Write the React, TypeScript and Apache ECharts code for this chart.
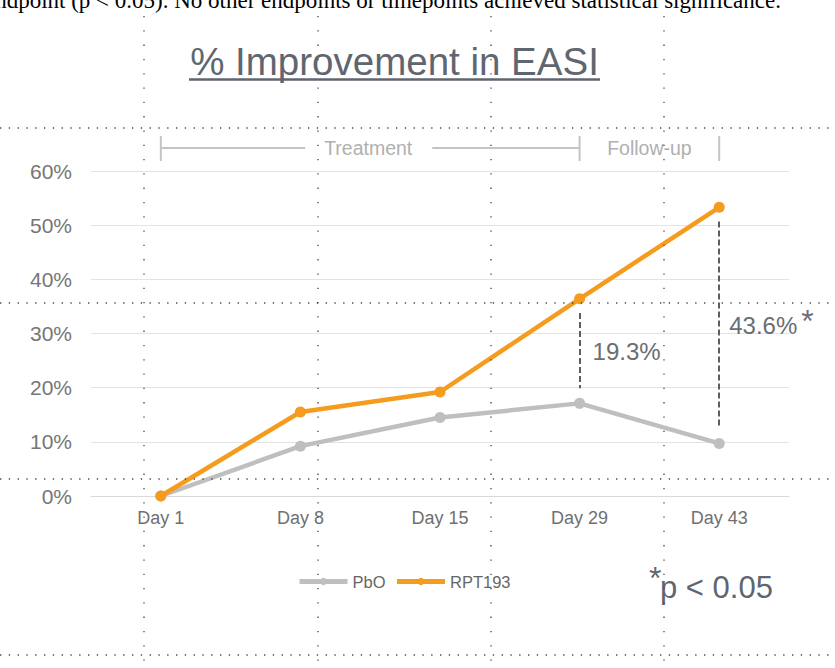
import React, { useEffect, useRef } from "react";
import * as echarts from "echarts";

const categories = ["Day 1", "Day 8", "Day 15", "Day 29", "Day 43"];
const pboValues = [0, 9.2, 14.5, 17.1, 9.7];
const rptValues = [0, 15.5, 19.2, 36.4, 53.3];
const seriesNames = ["PbO", "RPT193"];
const yMin = 0;
const yMax = 60;
const yInterval = 10;
const diffIndices = [3, 4];
const diffLabels = ["19.3%", "43.6%"];
const diffSignificant = [false, true];
const phaseLabels = ["Treatment", "Follow-up"];
const phaseStart = [0, 3];
const phaseEnd = [3, 4];
const titleText = "% Improvement in EASI";
const footnoteText = "p < 0.05";
const topText =
  "endpoint (p < 0.05). No other endpoints or timepoints achieved statistical significance.";

const SANS = "'Liberation Sans', Arial, sans-serif";
const ORANGE = "#F59B1E";
const GRAY = "#BFBFBF";
const DARK = "#5F6670";

export default function App() {
  const ref = useRef<HTMLDivElement>(null);
  useEffect(() => {
    document.body.style.margin = "0";
    const chart = echarts.init(ref.current!, null, { renderer: "svg" });
    const dashTop = 2.6;
    const dashBottom = 2.8;
    chart.setOption({
      animation: false,
      backgroundColor: "#ffffff",
      grid: { left: 91, right: 46, top: 171, bottom: 172 },
      legend: {
        data: seriesNames,
        left: 292,
        top: 568,
        itemWidth: 48,
        itemHeight: 9,
        itemGap: 9,
        lineStyle: { width: 5 },
        textStyle: { fontFamily: SANS, fontSize: 16.5, color: "#666666" },
      },
      xAxis: {
        type: "category",
        data: categories,
        axisLine: { lineStyle: { color: "#d9d9d9", width: 1 } },
        axisTick: { show: false },
        axisLabel: { fontFamily: SANS, fontSize: 18, color: "#707070", margin: 13 },
      },
      yAxis: {
        type: "value",
        min: yMin,
        max: yMax,
        interval: yInterval,
        axisLine: { show: false },
        axisTick: { show: false },
        splitLine: { lineStyle: { color: "#e3e3e3", width: 1 } },
        axisLabel: {
          fontFamily: SANS,
          fontSize: 21,
          color: "#767676",
          margin: 19,
          formatter: (v: number) => v + "%",
        },
      },
      series: [
        {
          name: seriesNames[0],
          type: "line",
          data: pboValues,
          symbol: "circle",
          symbolSize: 11,
          lineStyle: { color: GRAY, width: 4.5 },
          itemStyle: { color: GRAY },
          z: 2,
        },
        {
          name: seriesNames[1],
          type: "line",
          data: rptValues,
          symbol: "circle",
          symbolSize: 11,
          lineStyle: { color: ORANGE, width: 4.5 },
          itemStyle: { color: ORANGE },
          z: 3,
          markLine: {
            silent: true,
            symbol: "none",
            label: { show: false },
            lineStyle: { color: "#5a5f66", width: 2, type: [6, 3] },
            data: diffIndices.map((i) => [
              { coord: [i, rptValues[i] - dashTop] },
              { coord: [i, pboValues[i] + dashBottom] },
            ]),
          },
        },
      ],
    });

    const px = (i: number, v: number) =>
      chart.convertToPixel({ gridIndex: 0 }, [i, v]) as number[];

    const graphics: any[] = [];

    // top cut-off text (slide text above the chart, clipped as in the source)
    graphics.push({
      type: "text",
      x: 781,
      y: 12,
      style: {
        text: topText,
        font: "23px 'Liberation Serif', 'Times New Roman', serif",
        fill: "#000",
        align: "right",
        verticalAlign: "bottom",
      },
    });

    // title
    graphics.push({
      type: "text",
      x: 394.5,
      y: 61,
      style: {
        text: titleText,
        font: "38.5px " + SANS,
        fill: DARK,
        align: "center",
        verticalAlign: "middle",
      },
    });
    graphics.push({
      type: "line",
      shape: { x1: 189, y1: 79.5, x2: 600, y2: 79.5 },
      style: { stroke: DARK, lineWidth: 2.5 },
    });

    // phase brackets
    const bracketY = 148;
    const tickIdx = [phaseStart[0], phaseEnd[0], phaseEnd[1]];
    tickIdx.forEach((i) => {
      const x = px(i, 0)[0];
      graphics.push({
        type: "line",
        shape: { x1: x, y1: 136, x2: x, y2: 161 },
        style: { stroke: "#c4c4c4", lineWidth: 2 },
      });
    });
    phaseLabels.forEach((lab, k) => {
      const x1 = px(phaseStart[k], 0)[0];
      const x2 = px(phaseEnd[k], 0)[0];
      const mid = (x1 + x2) / 2 - (k === 0 ? 2 : 0);
      graphics.push({
        type: "text",
        x: mid,
        y: bracketY,
        style: {
          text: lab,
          font: "19.5px " + SANS,
          fill: "#b0b0b0",
          align: "center",
          verticalAlign: "middle",
        },
      });
      if (k === 0) {
        graphics.push({
          type: "line",
          shape: { x1: x1, y1: bracketY, x2: mid - 63, y2: bracketY },
          style: { stroke: "#c4c4c4", lineWidth: 2 },
        });
        graphics.push({
          type: "line",
          shape: { x1: mid + 64, y1: bracketY, x2: x2, y2: bracketY },
          style: { stroke: "#c4c4c4", lineWidth: 2 },
        });
      }
    });

    // difference labels
    diffIndices.forEach((i, k) => {
      const mid = (rptValues[i] + pboValues[i]) / 2;
      const p = px(i, mid);
      const x = p[0] + (k === 0 ? 13 : 10);
      const y = p[1];
      graphics.push({
        type: "text",
        x,
        y,
        style: {
          text: diffLabels[k],
          font: "24px " + SANS,
          fill: "#6a6e75",
          align: "left",
          verticalAlign: "middle",
        },
      });
      if (diffSignificant[k]) {
        graphics.push({
          type: "text",
          x: x + 72,
          y: y - 4,
          style: {
            text: "*",
            font: "32px " + SANS,
            fill: "#6a6e75",
            align: "left",
            verticalAlign: "middle",
          },
        });
      }
    });

    // footnote
    graphics.push({
      type: "text",
      x: 660,
      y: 587,
      style: {
        text: footnoteText,
        font: "31px " + SANS,
        fill: DARK,
        align: "left",
        verticalAlign: "middle",
      },
    });
    graphics.push({
      type: "text",
      x: 649,
      y: 578,
      style: {
        text: "*",
        font: "32px " + SANS,
        fill: DARK,
        align: "left",
        verticalAlign: "middle",
      },
    });

    // dotted guide lines (slide background)
    const guideStyle = { stroke: "#444", lineWidth: 1.3, lineDash: [1.3, 7.5] };
    [128, 303, 479, 655].forEach((y) => {
      graphics.push({
        type: "line",
        shape: { x1: 0, y1: y, x2: 835, y2: y },
        style: guideStyle,
        z: 100,
      });
    });
    [144, 318, 491, 664].forEach((x) => {
      graphics.push({
        type: "line",
        shape: { x1: x, y1: 16, x2: x, y2: 668 },
        style: { stroke: "#444", lineWidth: 1.3, lineDash: [1.3, 13] },
        z: 100,
      });
    });

    chart.setOption({ graphic: graphics });

    return () => chart.dispose();
  }, []);
  return <div ref={ref} style={{ width: 835, height: 668 }} />;
}
